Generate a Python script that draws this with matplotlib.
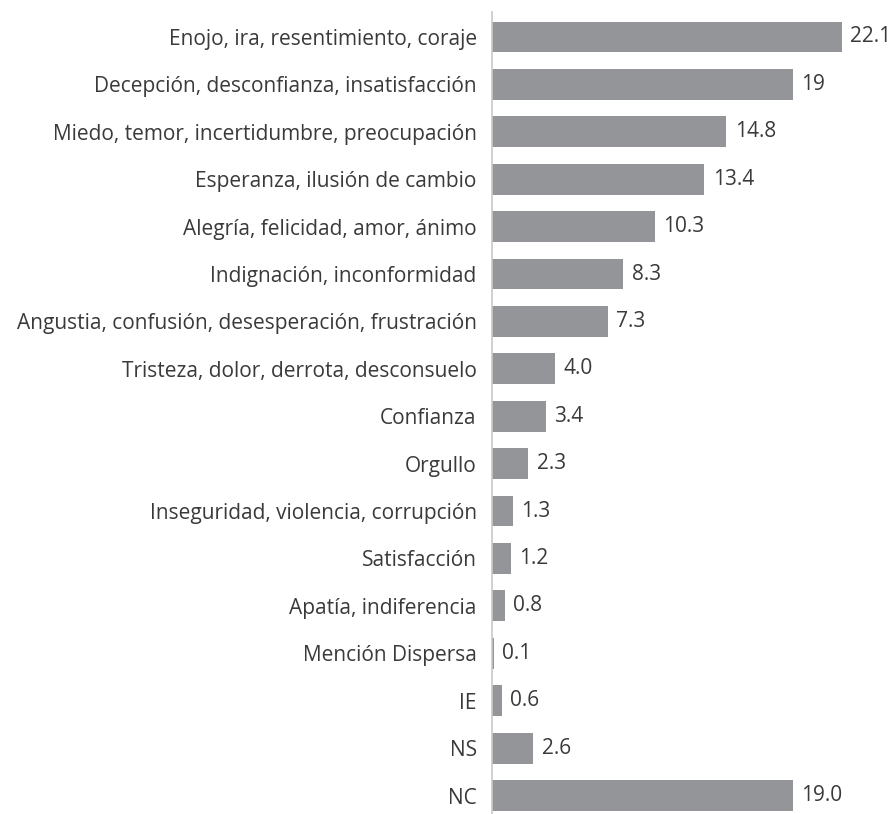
import matplotlib
matplotlib.use("Agg")
import matplotlib.pyplot as plt

categories = [
    "Enojo, ira, resentimiento, coraje",
    "Decepción, desconfianza, insatisfacción",
    "Miedo, temor, incertidumbre, preocupación",
    "Esperanza, ilusión de cambio",
    "Alegría, felicidad, amor, ánimo",
    "Indignación, inconformidad",
    "Angustia, confusión, desesperación, frustración",
    "Tristeza, dolor, derrota, desconsuelo",
    "Confianza",
    "Orgullo",
    "Inseguridad, violencia, corrupción",
    "Satisfacción",
    "Apatía, indiferencia",
    "Mención Dispersa",
    "IE",
    "NS",
    "NC",
]
values = [22.1, 19, 14.8, 13.4, 10.3, 8.3, 7.3, 4.0, 3.4, 2.3, 1.3, 1.2, 0.8, 0.1, 0.6, 2.6, 19.0]
value_labels = ["22.1", "19", "14.8", "13.4", "10.3", "8.3", "7.3", "4.0", "3.4",
                "2.3", "1.3", "1.2", "0.8", "0.1", "0.6", "2.6", "19.0"]

W, H = 892, 814
fig = plt.figure(figsize=(W / 100, H / 100), dpi=100)
ax = fig.add_axes([492 / W, 0, 400 / W, 1 - 12 / H])

text_color = "#3a3a3a"
bar_color = "#939598"
font = "Open Sans"
fs = 15

y = list(range(len(categories)))
ax.barh(y, values, height=0.65, color=bar_color)

ax.set_xlim(0, 400 / 15.84)
ax.set_ylim(16.39, -0.527)

for yi, v, lab in zip(y, values, value_labels):
    ax.annotate(lab, (v, yi), xytext=(6, 0), textcoords="offset points",
                va="center", ha="left", fontsize=fs, color=text_color,
                family=font)

ax.set_yticks(y)
ax.set_yticklabels(categories, fontsize=fs, color=text_color, family=font)
ax.tick_params(axis="y", length=0, pad=11)
ax.set_xticks([])

for s in ["top", "right", "bottom"]:
    ax.spines[s].set_visible(False)
ax.spines["left"].set_color("#c8c8c8")
ax.spines["left"].set_linewidth(1.2)

fig.savefig("out.png", dpi=100)
